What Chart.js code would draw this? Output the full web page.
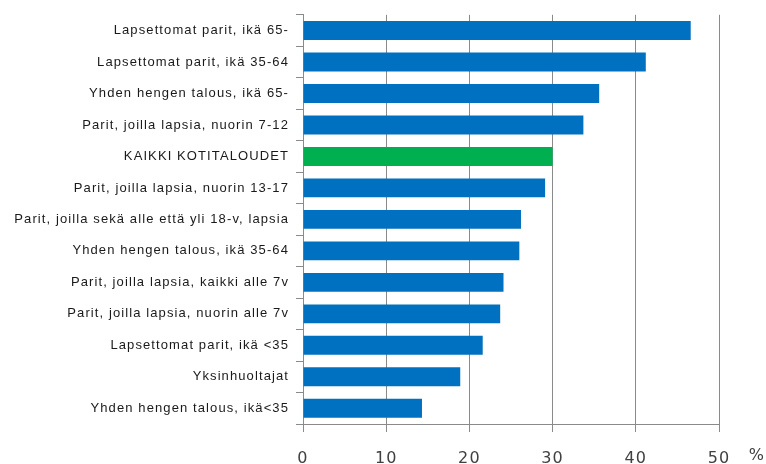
<!DOCTYPE html>
<html>
<head>
<meta charset="utf-8">
<script src="https://cdn.jsdelivr.net/npm/chart.js@4"></script>
<style>
html,body{margin:0;padding:0;background:#fff;}
#wrap{width:766px;height:464px;position:relative;}
</style>
</head>
<body>
<div id="wrap"><canvas id="c" width="766" height="464"></canvas></div>
<script>
const categories = [
  "Lapsettomat parit, ikä 65-",
  "Lapsettomat parit, ikä 35-64",
  "Yhden hengen talous, ikä 65-",
  "Parit, joilla lapsia, nuorin 7-12",
  "KAIKKI KOTITALOUDET",
  "Parit, joilla lapsia, nuorin 13-17",
  "Parit, joilla sekä alle että yli 18-v, lapsia",
  "Yhden hengen talous, ikä 35-64",
  "Parit, joilla lapsia, kaikki alle 7v",
  "Parit, joilla lapsia, nuorin alle 7v",
  "Lapsettomat parit, ikä <35",
  "Yksinhuoltajat",
  "Yhden hengen talous, ikä<35"
];
const values = [46.6, 41.2, 35.6, 33.7, 30.0, 29.1, 26.2, 26.0, 24.1, 23.7, 21.6, 18.9, 14.3];
const highlight = "KAIKKI KOTITALOUDET";
const xTicks = [0, 10, 20, 30, 40, 50];
const unitLabel = "%";

const BLUE = "#0070C0", GREEN = "#00B050", GRID = "#8a8a8a";

const spacingPlugin = {
  id: "spacing",
  beforeDraw(chart) { chart.ctx.letterSpacing = "1.1px"; }
};

const unitPlugin = {
  id: "unit",
  afterDraw(chart) {
    const xs = chart.scales.x;
    const ctx = chart.ctx;
    ctx.save();
    ctx.font = "16px 'DejaVu Sans'";
    ctx.fillStyle = "#404040";
    ctx.textAlign = "center";
    ctx.textBaseline = "top";
    ctx.fillText(unitLabel, xs.getPixelForValue(xTicks[xTicks.length-1]) + 38, xs.top + 24);
    ctx.restore();
  }
};

new Chart(document.getElementById("c"), {
  type: "bar",
  data: {
    labels: categories,
    datasets: [{
      data: values,
      backgroundColor: categories.map(c => c === highlight ? GREEN : BLUE),
      borderWidth: 0,
      barPercentage: 0.6,
      categoryPercentage: 1.0
    }]
  },
  options: {
    indexAxis: "y",
    responsive: false,
    animation: false,
    layout: { padding: { top: 13, right: 47, bottom: 0, left: 0 } },
    plugins: { legend: { display: false }, tooltip: { enabled: false } },
    scales: {
      x: {
        min: 0, max: 50,
        afterBuildTicks: s => { s.ticks = xTicks.map(v => ({ value: v })); },
        afterFit: s => { s.height = 40; },
        border: { display: true, color: GRID, width: 1 },
        grid: { color: GRID, lineWidth: 1, tickLength: 8, drawTicks: true },
        ticks: { padding: 17, color: "#404040", font: { family: "'DejaVu Sans'", size: 16 } }
      },
      y: {
        afterFit: s => { s.width = 303; },
        border: { display: true, color: GRID, width: 1 },
        grid: { display: true, offset: true, drawOnChartArea: false, tickLength: 7, color: GRID },
        ticks: { padding: 7, color: "#1a1a1a", font: { family: "'Liberation Sans'", size: 13 } }
      }
    }
  },
  plugins: [spacingPlugin, unitPlugin]
});
</script>
</body>
</html>
